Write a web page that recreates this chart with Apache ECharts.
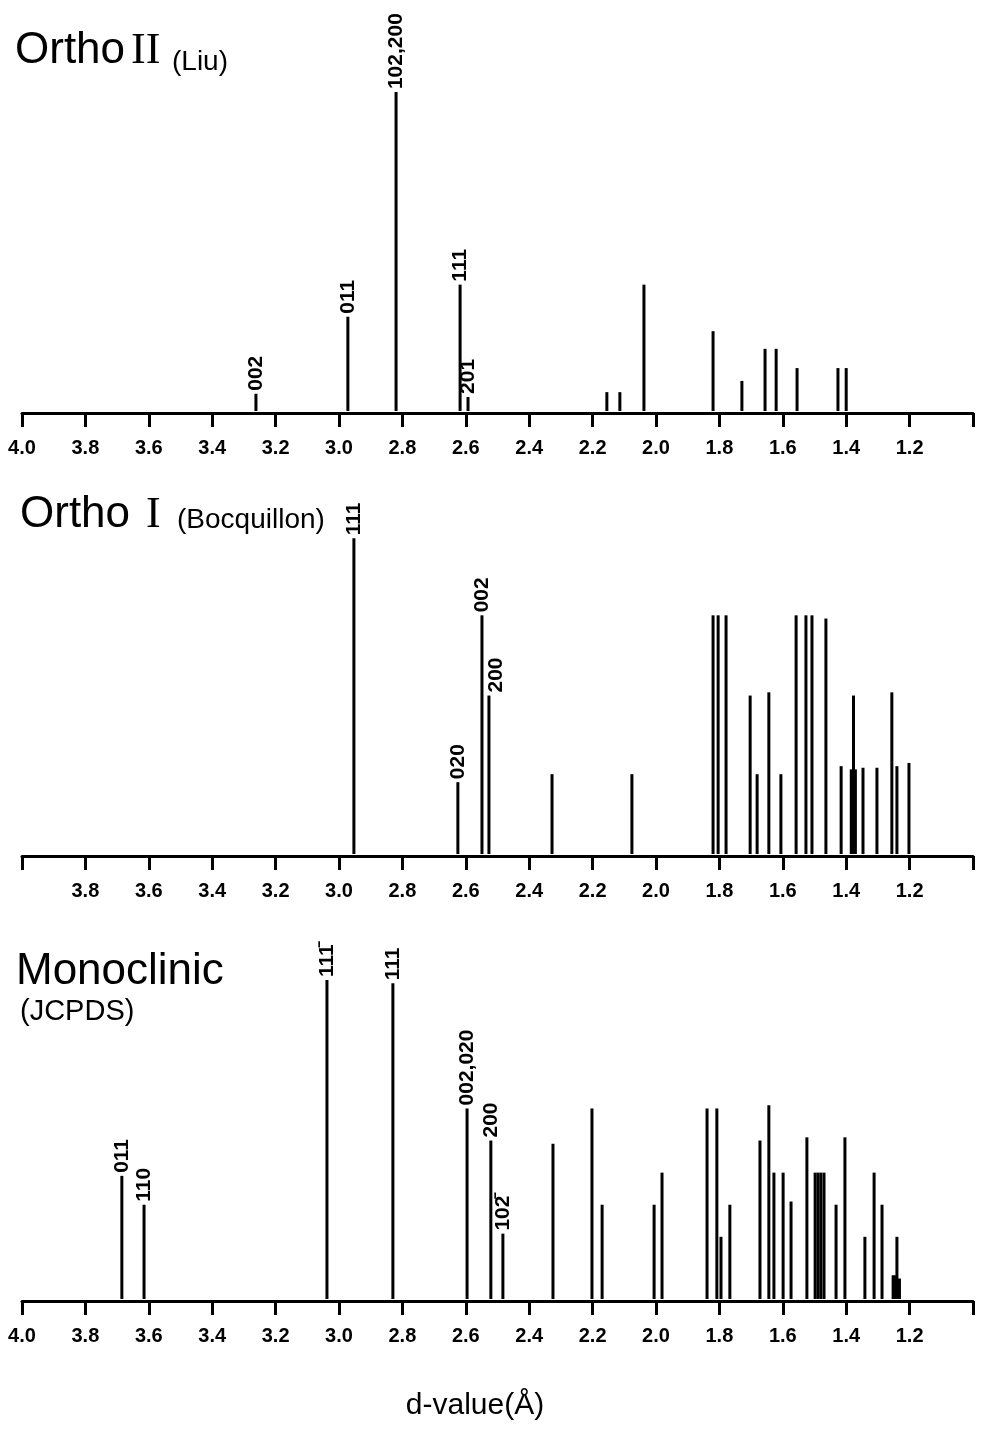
<!DOCTYPE html>
<html>
<head>
<meta charset="utf-8">
<title>d-value stick patterns</title>
<script src="https://cdn.jsdelivr.net/npm/echarts@6/dist/echarts.min.js"></script>
<style>
  html, body { margin: 0; padding: 0; background: #fff; }
  #chart { width: 983px; height: 1430px; }
</style>
</head>
<body>
<div id="chart"></div>
<script>
// Ortho II (Liu): d-spacings (Å), relative intensities, hkl labels
const orthoIID = [3.262, 2.972, 2.820, 2.618, 2.593, 2.155, 2.114, 2.038, 1.820, 1.729, 1.656, 1.621, 1.555, 1.426, 1.400];
const orthoIII = [6, 30, 100, 40, 5, 6.5, 6.5, 40, 25.5, 10, 20, 20, 14, 14, 14];
const orthoIILabels = ['002', '011', '102,200', '111', '201'];

// Ortho I (Bocquillon)
const orthoID = [2.953, 2.625, 2.549, 2.527, 2.328, 2.076, 1.820, 1.804, 1.779, 1.703, 1.681, 1.644, 1.606,
                 1.558, 1.527, 1.508, 1.464, 1.416, 1.384, 1.377, 1.371, 1.347, 1.303, 1.256, 1.240, 1.202];
const orthoII = [99, 23, 75, 50, 25.5, 25.5, 75, 75, 75, 50, 25.5, 51, 25.5,
                 75, 75, 75, 74, 28, 27, 50, 27, 27.5, 27.5, 51, 28, 29];
const orthoILabels = ['111', '020', '002', '200'];

// Monoclinic (JCPDS)
const monoD = [3.685, 3.615, 3.038, 2.830, 2.596, 2.521, 2.483, 2.325, 2.202, 2.170, 2.006, 1.981,
               1.839, 1.808, 1.795, 1.767, 1.672, 1.644, 1.628, 1.599, 1.574, 1.524, 1.498, 1.489,
               1.480, 1.470, 1.432, 1.404, 1.341, 1.312, 1.287, 1.252, 1.246, 1.240, 1.232];
const monoI = [39, 30, 100, 99, 60, 50, 21, 49, 60, 30, 30, 40,
               60, 60, 20, 30, 50, 61, 40, 40, 31, 51, 40, 40,
               40, 40, 30, 51, 20, 40, 30, 8, 8, 20, 7];
const monoLabels = ['011', '110', '111\u0304', '111', '002,020', '200', '102\u0304'];

// Axis tick labels (d-value, Å)
const tickLabelsFull = ['4.0', '3.8', '3.6', '3.4', '3.2', '3.0', '2.8', '2.6', '2.4', '2.2', '2.0', '1.8', '1.6', '1.4', '1.2'];
const tickLabelsNoEnd = ['3.8', '3.6', '3.4', '3.2', '3.0', '2.8', '2.6', '2.4', '2.2', '2.0', '1.8', '1.6', '1.4', '1.2'];

const SANS = "'Liberation Sans', Arial, Helvetica, sans-serif";
const SERIF = "'Liberation Serif', 'Times New Roman', serif";

// label nudges (px) for crowded peaks: panel index -> {dataIndex: dx}
const labelNudge = { 1: { 3: 7 } };

const gridBottoms = [1430 - 413, 1430 - 856, 1430 - 1301];
const YMAX = 110;
const PLOT_H = 353;

function makeGrid(i) {
  return { left: 22, right: 10, bottom: gridBottoms[i], height: PLOT_H };
}

function makeXAxis(i, labels) {
  return {
    type: 'value', gridIndex: i, min: 1.0, max: 4.0, interval: 0.2, inverse: true,
    axisLine: { lineStyle: { color: '#000', width: 3 } },
    axisTick: { show: true, length: 14, lineStyle: { color: '#000', width: 3 } },
    splitLine: { show: false },
    axisLabel: {
      margin: 25, color: '#000', fontSize: 20, fontWeight: 'bold', fontFamily: SANS,
      showMinLabel: true, showMaxLabel: true,
      formatter: function (v) {
        const s = (Math.round(v * 10) / 10).toFixed(1);
        return labels.indexOf(s) >= 0 ? s : '';
      }
    }
  };
}

function makeYAxis(i) {
  return { type: 'value', gridIndex: i, min: 0, max: YMAX, show: false };
}

function stickSeries(i, dvals, ivals, labels) {
  const nudge = labelNudge[i] || {};
  return {
    type: 'custom', xAxisIndex: i, yAxisIndex: i, clip: false,
    data: dvals.map((d, k) => [d, ivals[k]]),
    renderItem: function (params, api) {
      const k = params.dataIndex;
      const x = api.value(0), y = api.value(1);
      const p0 = api.coord([x, 0]);
      const p1 = api.coord([x, y]);
      const children = [{
        type: 'line',
        shape: { x1: p0[0], y1: p0[1] - 2, x2: p1[0], y2: p1[1] },
        style: { stroke: '#000', lineWidth: 3 }
      }];
      const lab = labels[k];
      if (lab) {
        children.push({
          type: 'text',
          x: p1[0] + (nudge[k] || 0), y: p1[1] - 3,
          rotation: Math.PI / 2,
          style: {
            text: lab, fill: '#000', font: 'bold 21px ' + SANS,
            align: 'left', verticalAlign: 'middle'
          }
        });
      }
      return { type: 'group', children: children };
    }
  };
}

function titleText(text, left, top, size, family) {
  return {
    text: text, left: left, top: top, padding: 0,
    textStyle: { fontSize: size, fontWeight: 'normal', color: '#000', fontFamily: family }
  };
}

const chart = echarts.init(document.getElementById('chart'), null, { renderer: 'canvas' });

chart.setOption({
  backgroundColor: '#fff',
  animation: false,
  title: [
    titleText('Ortho', 15, 29, 44, SANS),
    titleText('II', 131, 29, 44, SERIF),
    titleText('(Liu)', 172, 48, 28, SANS),
    titleText('Ortho', 20, 493, 44, SANS),
    titleText('I', 146, 493, 44, SERIF),
    titleText('(Bocquillon)', 177, 506, 28, SANS),
    titleText('Monoclinic', 16, 950, 44, SANS),
    titleText('(JCPDS)', 20, 997, 29, SANS),
    {
      text: 'd-value(Å)', left: 475, top: 1391, padding: 0, textAlign: 'center',
      textStyle: { fontSize: 30, fontWeight: 'normal', color: '#000', fontFamily: SANS }
    }
  ],
  grid: [makeGrid(0), makeGrid(1), makeGrid(2)],
  xAxis: [makeXAxis(0, tickLabelsFull), makeXAxis(1, tickLabelsNoEnd), makeXAxis(2, tickLabelsFull)],
  yAxis: [makeYAxis(0), makeYAxis(1), makeYAxis(2)],
  series: [
    stickSeries(0, orthoIID, orthoIII, orthoIILabels),
    stickSeries(1, orthoID, orthoII, orthoILabels),
    stickSeries(2, monoD, monoI, monoLabels)
  ]
});
</script>
</body>
</html>
